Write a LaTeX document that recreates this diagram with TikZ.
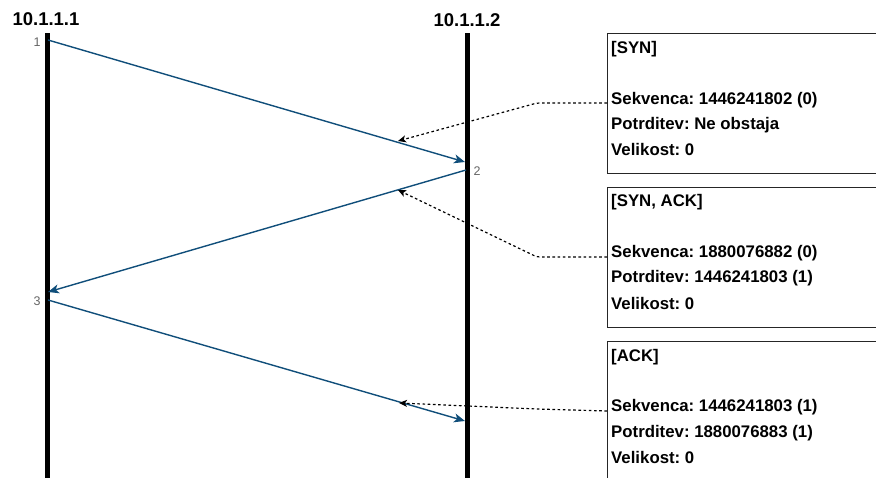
\documentclass[tikz,border=0pt]{standalone}
\usepackage{fontspec}
\setmainfont{Liberation Sans}
\usetikzlibrary{arrows.meta}
\definecolor{msgblue}{RGB}{16,78,122}
\definecolor{numgray}{RGB}{100,100,100}
\frenchspacing
\tikzset{
  lifeline/.style={line width=5pt, black},
  msg/.style={draw=msgblue, line width=1.4pt, -{Stealth[length=11pt,width=9pt,inset=3pt]}},
  note/.style={draw=black, dash pattern=on 2.6pt off 2.6pt, line width=1.2pt, rounded corners=3pt, -{Stealth[length=8pt,width=7pt,inset=2pt]}},
  hdr/.style={font=\fontsize{18.5}{22}\selectfont\bfseries, inner sep=0pt},
  num/.style={font=\fontsize{12.5}{14}\selectfont, text=numgray, inner sep=0pt},
  infobox/.style={draw=black!85, line width=1.3pt, anchor=north west, minimum width=320pt, inner sep=0pt},
  txt/.style={font=\fontsize{16.8}{19}\selectfont\bfseries, anchor=west, inner sep=0pt}
}
\begin{document}
\begin{tikzpicture}[x=1pt,y=-1pt]
\clip (0,0) rectangle (876,477);
% headers
\node[hdr] (h1) at (46,19) {10.1.1.1};
\node[hdr] (h2) at (467,20) {10.1.1.2};
% lifelines
\coordinate (l1t) at (47,33); \coordinate (l1b) at (47,480);
\coordinate (l2t) at (467,33); \coordinate (l2b) at (467,480);
\draw[lifeline] (l1t) -- (l1b);
\draw[lifeline] (l2t) -- (l2b);
% messages
\coordinate (m1s) at (48,40);  \coordinate (m1e) at (465,162);
\coordinate (m2s) at (466,170); \coordinate (m2e) at (48,292);
\coordinate (m3s) at (48,300); \coordinate (m3e) at (465,421);
\draw[msg] (m1s) -- (m1e);
\draw[msg] (m2s) -- (m2e);
\draw[msg] (m3s) -- (m3e);
\node[num] (n1) at (37,42) {1};
\node[num] (n2) at (477,171) {2};
\node[num] (n3) at (37,301) {3};
% boxes
\node[infobox, minimum height=140pt] (b1) at (607,33) {};
\node[infobox, minimum height=140pt] (b2) at (607,187) {};
\node[infobox, minimum height=150pt] (b3) at (607,341) {};
\node[txt] (t11) at (611,49) {[SYN]};
\node[txt] (t12) at (611,100) {Sekvenca: 1446241802 (0)};
\node[txt] (t13) at (611,125) {Potrditev: Ne obstaja};
\node[txt] (t14) at (611,149) {Velikost: 0};
\node[txt] (t21) at (611,202) {[SYN, ACK]};
\node[txt] (t22) at (611,253) {Sekvenca: 1880076882 (0)};
\node[txt] (t23) at (611,278) {Potrditev: 1446241803 (1)};
\node[txt] (t24) at (611,303) {Velikost: 0};
\node[txt] (t31) at (611,357) {[ACK]};
\node[txt] (t32) at (611,407) {Sekvenca: 1446241803 (1)};
\node[txt] (t33) at (611,433) {Potrditev: 1880076883 (1)};
\node[txt] (t34) at (611,457) {Velikost: 0};
% note connectors
\coordinate (c1a) at (607,103); \coordinate (c1b) at (537,103); \coordinate (c1c) at (398,141);
\coordinate (c2a) at (607,257); \coordinate (c2b) at (537,257); \coordinate (c2c) at (398,190);
\coordinate (c3a) at (607,411); \coordinate (c3b) at (537,409); \coordinate (c3c) at (399,403);
\draw[note] (c1a) -- (c1b) -- (c1c);
\draw[note] (c2a) -- (c2b) -- (c2c);
\draw[note] (c3a) -- (c3b) -- (c3c);
\end{tikzpicture}
\end{document}
